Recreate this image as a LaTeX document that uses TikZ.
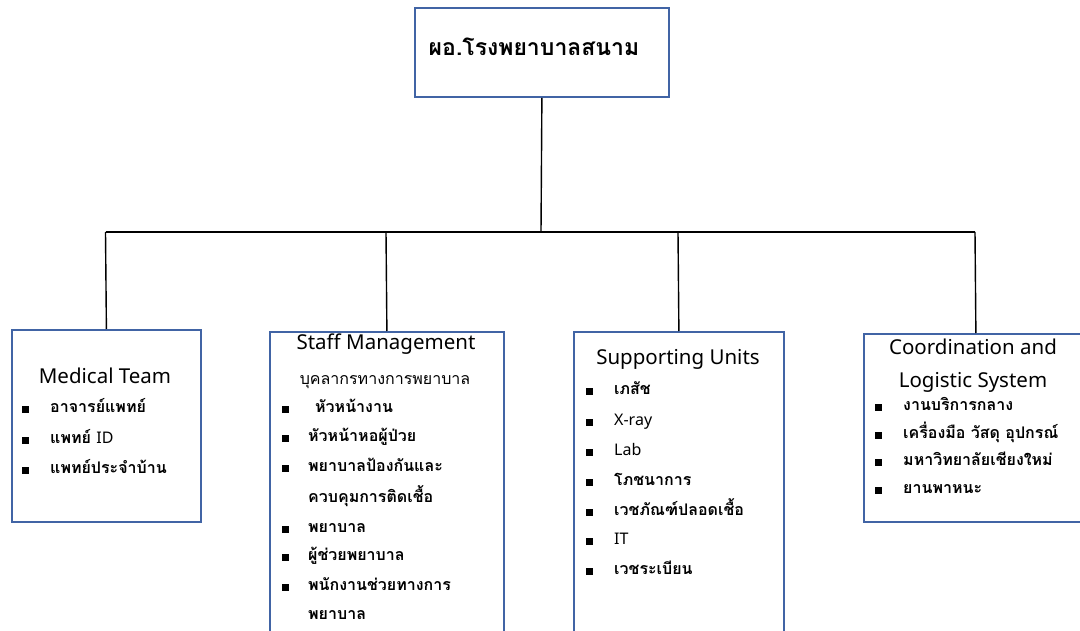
\documentclass[tikz,border=0pt]{standalone}
\usepackage{fontspec}
\newfontfamily\thai[Script=Thai]{Loma}
\newfontfamily\latinhead{Noto Sans}
\definecolor{boxblue}{RGB}{65,100,165}
\newcommand{\lat}[1]{{\latinhead\mdseries #1}}
\tikzset{
  box/.style={draw=boxblue, line width=1.8pt, inner sep=0pt, anchor=north west},
  conn/.style={draw=black, line width=1.4pt},
  head/.style={font=\latinhead\fontsize{20.5}{23}\selectfont, inner sep=0pt, anchor=center, text height=0.75em, text depth=0.25em},
  sub/.style={font=\thai\fontsize{16}{19}\selectfont, inner sep=0pt, anchor=center, text height=0.75em, text depth=0.25em},
  item/.style={font=\thai\bfseries\fontsize{16}{19}\selectfont, inner sep=0pt, anchor=west, text height=0.75em, text depth=0.25em},
  bul/.style={fill=black, minimum size=7pt, inner sep=0pt},
}
\begin{document}
\begin{tikzpicture}[x=1pt,y=-1pt]
\useasboundingbox (0,0) rectangle (1080,631);
% boxes
\node[box, minimum width=254, minimum height=89] (top) at (414,7) {};
\node[box, minimum width=189, minimum height=192] (med) at (11,329) {};
\node[box, minimum width=234, minimum height=320] (staff) at (269,331) {};
\node[box, minimum width=210, minimum height=320] (sup) at (573,331) {};
\node[box, minimum width=224, minimum height=188] (coord) at (863,333) {};
% title
\node[font=\thai\bfseries\fontsize{23}{27}\selectfont, inner sep=0pt, text height=0.75em, text depth=0.25em] (title) at (534,53) {ผอ.โรงพยาบาลสนาม};
% connectors
\coordinate (hub) at (541,232);
\coordinate (c1) at (105.5,232);
\coordinate (c2) at (386,232);
\coordinate (c3) at (678,232);
\coordinate (c4) at (975,232);
\draw[conn] (top.south) -- (hub);
\draw[conn] (c1) -- (c4);
\draw[conn] (c1) -- (med.north);
\draw[conn] (c2) -- (staff.north);
\draw[conn] (c3) -- (sup.north);
\draw[conn] (c4) -- (coord.north);
% medical team
\node[head] (medh) at (105,381) {Medical Team};
\node[bul] (mb1) at (25,409) {}; \node[item] (mi1) at (50,410) {อาจารย์แพทย์};
\node[bul] (mb2) at (25,440) {}; \node[item] (mi2) at (50,441) {แพทย์ \lat{ID}};
\node[bul] (mb3) at (25,470) {}; \node[item] (mi3) at (50,471) {แพทย์ประจำบ้าน};
% staff management
\node[head] (sth) at (386,347) {Staff Management};
\node[sub] (sts) at (385,382) {บุคลากรทางการพยาบาล};
\node[bul] (sb1) at (285,409) {}; \node[item] (si1) at (315,410) {หัวหน้างาน};
\node[bul] (sb2) at (285,438) {}; \node[item] (si2) at (308,439) {หัวหน้าหอผู้ป่วย};
\node[bul] (sb3) at (285,468) {}; \node[item] (si3) at (308,469) {พยาบาลป้องกันและ};
\node[item] (si3b) at (308,500) {ควบคุมการติดเชื้อ};
\node[bul] (sb4) at (285,529) {}; \node[item] (si4) at (308,530) {พยาบาล};
\node[bul] (sb5) at (285,557) {}; \node[item] (si5) at (308,558) {ผู้ช่วยพยาบาล};
\node[bul] (sb6) at (285,587) {}; \node[item] (si6) at (308,588) {พนักงานช่วยทางการ};
\node[item] (si6b) at (308,617) {พยาบาล};
% supporting units
\node[head] (suh) at (678,362) {Supporting Units};
\node[bul] (ub1) at (589,391) {}; \node[item] (ui1) at (614,392) {เภสัช};
\node[bul] (ub2) at (589,422) {}; \node[item] (ui2) at (614,423) {\lat{X-ray}};
\node[bul] (ub3) at (589,452) {}; \node[item] (ui3) at (614,453) {\lat{Lab}};
\node[bul] (ub4) at (589,482) {}; \node[item] (ui4) at (614,483) {โภชนาการ};
\node[bul] (ub5) at (589,512) {}; \node[item] (ui5) at (614,513) {เวชภัณฑ์ปลอดเชื้อ};
\node[bul] (ub6) at (589,541) {}; \node[item] (ui6) at (614,542) {\lat{IT}};
\node[bul] (ub7) at (589,571) {}; \node[item] (ui7) at (614,572) {เวชระเบียน};
% coordination
\node[head] (coh1) at (973,352) {Coordination and};
\node[head] (coh2) at (973,385) {Logistic System};
\node[bul] (cb1) at (878,407) {}; \node[item] (ci1) at (903,408) {งานบริการกลาง};
\node[bul] (cb2) at (878,435) {}; \node[item] (ci2) at (903,436) {เครื่องมือ วัสดุ อุปกรณ์};
\node[bul] (cb3) at (878,462) {}; \node[item] (ci3) at (903,463) {มหาวิทยาลัยเชียงใหม่};
\node[bul] (cb4) at (878,490) {}; \node[item] (ci4) at (903,491) {ยานพาหนะ};
\end{tikzpicture}
\end{document}
